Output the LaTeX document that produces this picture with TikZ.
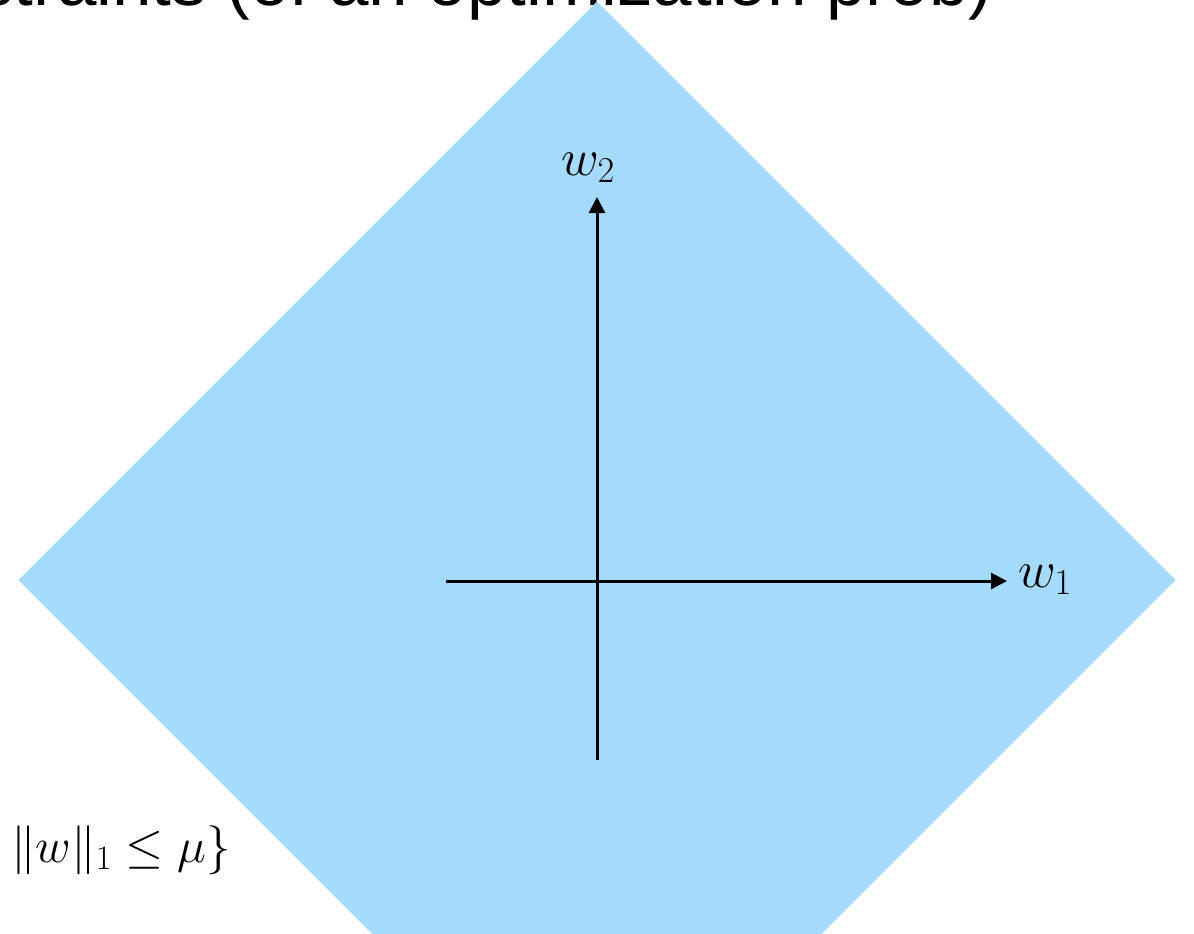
\RequirePackage{fix-cm}
\documentclass[tikz,border=0pt]{standalone}
\usepackage{fontspec}
\newfontfamily\arialfont{Liberation Sans}
\usetikzlibrary{arrows.meta}
\definecolor{regionblue}{RGB}{164,219,252}
\tikzset{
  axisline/.style={line width=3pt, -{Triangle[length=16pt,width=16pt]}},
  mathlabel/.style={inner sep=0pt, font=\fontsize{52}{60}\selectfont},
  titletext/.style={inner sep=0pt, font=\arialfont\fontsize{71}{80}\selectfont, text=black}
}
\begin{document}
\begin{tikzpicture}[x=1pt,y=-1pt]
\useasboundingbox (0,0) rectangle (1194,934);
\clip (0,0) rectangle (1194,934);
% title (partly hidden, as in the reference)
\node[titletext, anchor=base west] (title) at (-22,6) {straints (of an optimization prob)};
% feasible region
\coordinate (top) at (597,1.5);
\coordinate (right) at (1175.5,580);
\coordinate (bottom) at (597,1158.5);
\coordinate (left) at (18.5,580);
\fill[regionblue] (top) -- (right) -- (bottom) -- (left) -- cycle;
% axes
\coordinate (xs) at (446,581);
\coordinate (xe) at (1007,581);
\coordinate (ys) at (597,760);
\coordinate (ye) at (597,197);
\draw[axisline] (xs) -- (xe);
\draw[axisline] (ys) -- (ye);
% labels
\node[mathlabel, anchor=base west] (w1) at (1018,587) {$w_1$};
\node[mathlabel, anchor=base west] (w2) at (561,175) {$w_2$};
\node[mathlabel, anchor=base west, font=\fontsize{49}{56}\selectfont] (cons) at (11,862) {$\|w\|_1 \le \mu\}$};
\end{tikzpicture}
\end{document}
